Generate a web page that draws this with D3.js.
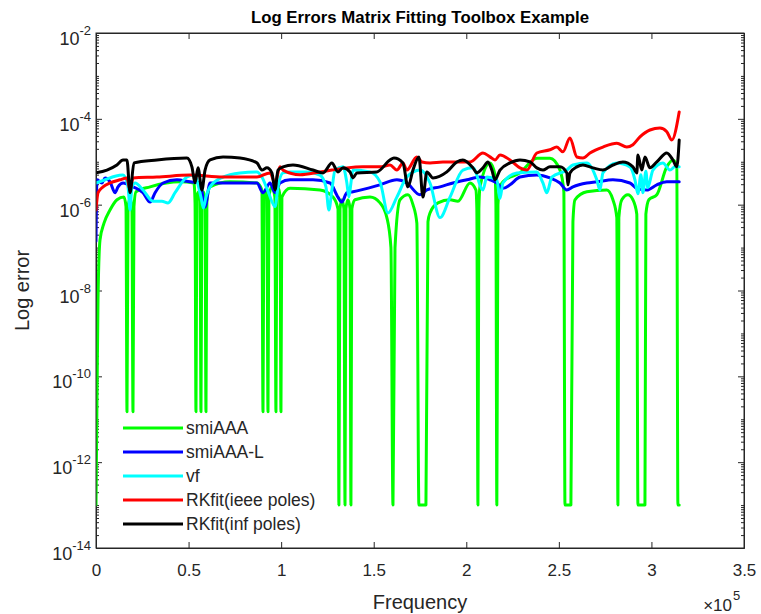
<!DOCTYPE html>
<html>
<head>
<meta charset="utf-8">
<script src="https://d3js.org/d3.v7.min.js"></script>
<style>
  body { margin: 0; background: #fff; }
  text { font-family: "Liberation Sans", Arial, Helvetica, sans-serif; fill: #262626; }
</style>
</head>
<body>
<div id="graph"></div>
<script>
let w = 761;
let h = 614;

// frequency in Hz, error as plain value
let xTickValues = [0, 50000, 100000, 150000, 200000, 250000, 300000, 350000];
let yTickExponents = [-14, -12, -10, -8, -6, -4, -2];
let seriesNames = ["smiAAA", "smiAAA-L", "vf", "RKfit(ieee poles)", "RKfit(inf poles)"];

let smiAAA = [
  [0, 1e-13], [540, 2.8e-11], [1080, 6e-9], [2160, 1.5e-7], [4320, 3.7e-7], [7560, 7.5e-7],
  [11340, 1.3e-6], [15100, 1.5e-6], [16200, 9e-7], [16740, 1.5e-11], [17300, 9e-7], [18400, 1.4e-6],
  [19400, 9e-7], [19980, 1.5e-11], [20500, 9e-7], [21600, 2e-6], [29200, 2.6e-6], [45400, 3.4e-6],
  [52900, 3.2e-6], [53500, 1.1e-6], [54000, 1.5e-11], [54500, 1.5e-6], [55400, 2e-6], [56200, 1.2e-6],
  [56700, 1.5e-11], [57200, 1.2e-6], [58100, 2e-6], [58900, 1.2e-6], [59400, 1.5e-11], [59900, 1.2e-6],
  [61600, 2.6e-6], [72400, 3.4e-6], [86900, 3.2e-6], [89600, 2.2e-6], [90200, 1.5e-11], [90700, 1.5e-6],
  [91500, 2.2e-6], [92300, 1.5e-6], [92900, 1.5e-11], [93400, 1.5e-6], [95000, 2.6e-6], [96600, 1.5e-6],
  [97200, 1.5e-11], [97700, 1.5e-6], [98600, 2.4e-6], [99400, 1.5e-6], [99900, 1.5e-11], [100400, 1.5e-6],
  [104800, 2.4e-6], [121000, 2.2e-6], [128000, 1.5e-6], [130700, 8e-7], [131200, 1e-13], [131800, 8e-7],
  [132800, 1.3e-6], [133900, 8e-7], [134500, 1e-13], [135000, 8e-7], [136100, 1.3e-6], [137200, 8e-7],
  [137700, 1e-13], [138200, 8e-7], [139900, 1.3e-6], [148000, 1.5e-6], [153400, 1.1e-6], [157100, 5e-7],
  [159300, 1e-7], [160400, 1e-13], [161500, 1e-7], [164200, 1.3e-6], [168500, 1.7e-6], [171200, 1e-6],
  [173300, 3.7e-7], [174400, 1e-13], [178200, 1e-13], [179300, 4e-7], [180400, 6.4e-7], [184700, 1.1e-6],
  [191200, 1.3e-6], [195500, 1.2e-6], [202000, 3.2e-6], [205200, 2.2e-6], [205700, 8e-7], [206300, 1e-13],
  [206800, 8e-7], [207400, 2.6e-6], [212800, 9.4e-6], [215500, 5e-6], [216000, 1e-6], [216500, 1e-13],
  [217100, 1e-6], [218200, 2.6e-6], [219800, 3.4e-6], [229000, 5.5e-6], [238100, 1.2e-5], [245200, 1.2e-5],
  [250600, 6.4e-6], [252700, 2e-6], [253300, 1e-13], [256500, 1e-13], [257600, 4e-7], [258700, 1.3e-6],
  [265100, 2e-6], [275900, 2.2e-6], [279200, 1.3e-6], [281300, 5e-7], [281900, 1e-13], [282400, 5e-7],
  [284000, 1.3e-6], [287300, 1.7e-6], [290000, 1.3e-6], [292100, 6e-7], [292700, 1e-13], [296500, 1e-13],
  [297000, 6e-7], [298600, 1.3e-6], [302900, 1.7e-6], [308300, 7.6e-6], [311600, 1.1e-5], [313700, 8e-6],
  [314300, 1e-13], [315000, 1e-13]
];

let smiAAAL = [
  [0, 1.4e-7], [500, 3.8e-6], [3200, 3.2e-6], [4900, 4.2e-6], [7600, 3.4e-6], [10300, 1.9e-6],
  [11900, 2.6e-6], [14600, 3.2e-6], [20000, 2.6e-6], [25400, 1.9e-6], [29200, 1.15e-6], [31900, 1.9e-6],
  [36200, 3.2e-6], [43700, 3.8e-6], [50800, 3.4e-6], [56200, 3.2e-6], [58900, 8.8e-7], [61600, 3.2e-6],
  [68600, 3.2e-6], [86900, 3.2e-6], [90200, 1.9e-6], [94000, 3.2e-6], [96700, 1.9e-6], [99400, 3.2e-6],
  [104800, 3.8e-6], [117200, 3.8e-6], [126400, 3.2e-6], [130700, 1.5e-6], [132800, 1.15e-6], [135500, 1.9e-6],
  [138800, 2e-6], [153400, 2.9e-6], [162500, 3.8e-6], [167900, 3.2e-6], [175000, 1.7e-6], [178700, 2.2e-6],
  [185800, 2.6e-6], [192800, 3.2e-6], [200300, 3.8e-6], [207400, 4.4e-6], [212800, 3.8e-6], [216500, 3.2e-6],
  [219800, 2.4e-6], [223600, 2.9e-6], [229000, 4.4e-6], [238100, 4.9e-6], [245200, 4.2e-6], [250600, 3.2e-6],
  [254300, 2.2e-6], [257600, 2.6e-6], [265100, 3.2e-6], [270500, 3.4e-6], [279200, 3.8e-6], [288400, 3.2e-6],
  [292100, 2.4e-6], [297500, 2.2e-6], [302900, 2.9e-6], [308300, 3.4e-6], [315000, 3.4e-6]
];

let vf = [
  [0, 3.2e-6], [5000, 3.8e-6], [10300, 4.6e-6], [14600, 4.9e-6], [17300, 2.6e-6], [18400, 7.5e-7],
  [19400, 2.6e-6], [21100, 3.2e-6], [25400, 2.2e-6], [30800, 1.2e-6], [35600, 1.2e-6], [38900, 1.1e-6],
  [42700, 1.9e-6], [49100, 4.4e-6], [52900, 4.9e-6], [56700, 1.5e-6], [58000, 8.4e-7], [59400, 1.5e-6],
  [61600, 2.6e-6], [68600, 4.4e-6], [77800, 5.5e-6], [86900, 5.8e-6], [89600, 4.4e-6], [93000, 2e-6],
  [96700, 9e-7], [98300, 2.6e-6], [101000, 5.5e-6], [104800, 5.8e-6], [113900, 5.8e-6], [121000, 4.9e-6],
  [124200, 2.6e-6], [125800, 7.5e-7], [127400, 2.2e-6], [129100, 6.4e-6], [133400, 7.6e-6], [135500, 3.2e-6],
  [136600, 1.5e-6], [137700, 3.2e-6], [138800, 6.4e-6], [147900, 5.8e-6], [153400, 3.4e-6], [157700, 6.4e-7],
  [162500, 1.5e-6], [167900, 4.4e-6], [175000, 6.4e-6], [180400, 3.2e-6], [185800, 5e-7], [191200, 1.5e-6],
  [198200, 6.4e-6], [203600, 7.2e-6], [209000, 2.2e-6], [211100, 4.4e-6], [216500, 3.8e-6], [218200, 1.4e-6],
  [219800, 3.2e-6], [227300, 5.5e-6], [238100, 5.8e-6], [241400, 3.2e-6], [243500, 1.9e-6], [246200, 4.4e-6],
  [254300, 6.4e-6], [257600, 8.4e-6], [265100, 9.4e-6], [270500, 3.8e-6], [272200, 2.2e-6], [273800, 5.5e-6],
  [281300, 9.4e-6], [288400, 7.6e-6], [291100, 3.8e-6], [292700, 1.8e-6], [294300, 5e-6], [295400, 1.9e-6],
  [297000, 6e-6], [298000, 2.5e-6], [300800, 6.4e-6], [306200, 9.4e-6], [310000, 6.4e-6], [312700, 7.6e-6],
  [315000, 7.6e-6]
];

let rkfitIeee = [
  [0, 7.5e-7], [1100, 1.9e-6], [3800, 2.6e-6], [7600, 3.2e-6], [13000, 3.8e-6], [16700, 4.2e-6],
  [18400, 2.2e-6], [20000, 4.2e-6], [32900, 4.4e-6], [50800, 4.9e-6], [68600, 4.4e-6], [86900, 4.4e-6],
  [94000, 5.5e-6], [96700, 3.2e-6], [99400, 7.6e-6], [101000, 6.4e-6], [110200, 5e-6], [121000, 5.8e-6],
  [127400, 6.4e-6], [135500, 7.2e-6], [144200, 7.6e-6], [153400, 7.6e-6], [158800, 8.4e-6], [162500, 6.4e-6],
  [165800, 9.4e-6], [167900, 6.4e-6], [173300, 1.29e-5], [176000, 9.9e-6], [180400, 9.4e-6], [187400, 9.9e-6],
  [194900, 9.9e-6], [202000, 9.9e-6], [209000, 1.6e-5], [212800, 1.3e-5], [215500, 1.1e-5], [218200, 1.44e-5],
  [223600, 1.1e-5], [229000, 7.2e-6], [232700, 6.4e-6], [238100, 1.6e-5], [245200, 1.9e-5], [248900, 2.2e-5],
  [252200, 1.7e-5], [256000, 3.6e-5], [259700, 1.29e-5], [263000, 1.22e-5], [266800, 1.6e-5], [273800, 2.2e-5],
  [281300, 2.7e-5], [286700, 2.2e-5], [290000, 2.5e-5], [293800, 3.8e-5], [299200, 5.5e-5], [304600, 6.1e-5],
  [308300, 5e-5], [311000, 3.2e-5], [315000, 1.45e-4]
];

let rkfitInf = [
  [0, 5.5e-6], [5900, 6.4e-6], [11300, 8.4e-6], [14600, 1.1e-5], [16700, 1.1e-5], [18400, 1.9e-6],
  [20500, 9.4e-6], [32900, 1.1e-5], [49100, 1.22e-5], [51800, 7.6e-6], [53500, 3.2e-6], [55100, 7.2e-6],
  [57200, 2.2e-6], [58900, 6.4e-6], [61600, 1.1e-5], [68600, 1.29e-5], [77800, 1.22e-5], [86900, 9.4e-6],
  [89600, 6.4e-6], [92300, 7.2e-6], [95000, 5.5e-6], [96700, 2.2e-6], [98300, 6.4e-6], [101000, 7.6e-6],
  [106400, 8.4e-6], [117200, 6.4e-6], [122600, 5.5e-6], [127400, 9.4e-6], [130700, 5.8e-6], [133400, 7.2e-6],
  [137200, 5.8e-6], [138800, 4.2e-6], [140900, 5.5e-6], [151700, 5.8e-6], [158800, 1.1e-5], [160900, 1.22e-5],
  [165800, 9.4e-6], [168500, 2.6e-6], [171200, 6.4e-6], [174400, 1.29e-5], [176600, 1.5e-6], [178700, 5.8e-6],
  [182000, 4.2e-6], [189500, 5.8e-6], [194900, 9.9e-6], [198200, 1.1e-5], [203600, 7.2e-6], [205700, 5.5e-6],
  [209000, 7.2e-6], [211700, 9.9e-6], [213800, 6.4e-6], [215500, 3.8e-6], [218200, 6.4e-6], [223600, 9.4e-6],
  [229000, 1.1e-5], [234400, 9.9e-6], [238100, 7.2e-6], [241400, 6.4e-6], [245200, 7.6e-6], [250600, 7.6e-6],
  [254300, 5.5e-6], [254900, 2.9e-6], [256000, 5.5e-6], [259700, 7.6e-6], [263000, 8.4e-6], [268400, 7.2e-6],
  [273800, 6.4e-6], [279200, 8.4e-6], [284600, 9.9e-6], [290000, 7.6e-6], [292100, 5.5e-6], [292700, 1.44e-5],
  [294800, 6.4e-6], [296500, 1.29e-5], [299200, 7.2e-6], [302900, 9.9e-6], [308300, 1.6e-5], [311600, 1.1e-5],
  [313700, 7.6e-6], [315000, 3.2e-5]
];

let allSeries = [smiAAA, smiAAAL, vf, rkfitIeee, rkfitInf];

function getColor(i){
  if(i == 0){ return "#00ff00"; }
  if(i == 1){ return "#0000ff"; }
  if(i == 2){ return "#00ffff"; }
  if(i == 3){ return "#ff0000"; }
  return "#000000";
}

let plotLeft = 96, plotRight = 744, plotTop = 33, plotBottom = 548;

let xScale = d3.scaleLinear().domain([0, 350000]).range([plotLeft, plotRight]);
let yScale = d3.scaleLog().domain([1e-14, 1e-2]).range([plotBottom, plotTop]);

let viz = d3.select("#graph")
  .append("svg")
    .attr("width", w)
    .attr("height", h);

viz.append("clipPath").attr("id", "plotclip")
  .append("rect")
    .attr("x", plotLeft).attr("y", plotTop)
    .attr("width", plotRight - plotLeft).attr("height", plotBottom - plotTop);

// minor ticks for log axis
let minorTicks = [];
for(let e = -14; e < -2; e++){
  for(let m = 1; m <= 9; m++){
    if(m == 1 && e % 2 == 0) continue;
    minorTicks.push(m * Math.pow(10, e));
  }
}
let majorTicks = yTickExponents.map(e => Math.pow(10, e));

let axisColor = "#262626";

function styleAxis(g){
  g.selectAll("path, line").attr("stroke", axisColor);
}

let xAxisGroup = viz.append("g").attr("class", "xaxis")
  .attr("transform", "translate(0," + plotBottom + ")")
  .call(d3.axisBottom(xScale).tickValues(xTickValues).tickSizeInner(-6).tickSizeOuter(0)
        .tickPadding(16).tickFormat(d => d / 1e5));
xAxisGroup.call(styleAxis);
xAxisGroup.selectAll("text").attr("font-size", 17).attr("fill", axisColor)
  .attr("font-family", "Liberation Sans, Arial, sans-serif");

viz.append("g").attr("class", "xtop")
  .attr("transform", "translate(0," + plotTop + ")")
  .call(d3.axisTop(xScale).tickValues(xTickValues).tickSizeInner(-6).tickSizeOuter(0).tickFormat(""))
  .call(styleAxis);

viz.append("g").attr("class", "yaxis")
  .attr("transform", "translate(" + plotLeft + ",0)")
  .call(d3.axisLeft(yScale).tickValues(majorTicks).tickSizeInner(-6).tickSizeOuter(0).tickFormat(""))
  .call(styleAxis);
viz.append("g").attr("transform", "translate(" + plotLeft + ",0)")
  .call(d3.axisLeft(yScale).tickValues(minorTicks).tickSizeInner(-3).tickSizeOuter(0).tickFormat(""))
  .call(styleAxis);

viz.append("g").attr("class", "yright")
  .attr("transform", "translate(" + plotRight + ",0)")
  .call(d3.axisRight(yScale).tickValues(majorTicks).tickSizeInner(-6).tickSizeOuter(0).tickFormat(""))
  .call(styleAxis);
viz.append("g").attr("transform", "translate(" + plotRight + ",0)")
  .call(d3.axisRight(yScale).tickValues(minorTicks).tickSizeInner(-3).tickSizeOuter(0).tickFormat(""))
  .call(styleAxis);

// y tick labels 10^e
let yLabels = viz.append("g").attr("class", "ylabels");
yTickExponents.forEach(function(e){
  let t = yLabels.append("text")
    .attr("x", 91)
    .attr("y", yScale(Math.pow(10, e)) + 12)
    .attr("text-anchor", "end")
    .attr("font-size", 18);
  t.append("tspan").text("10");
  t.append("tspan").attr("dy", -10).attr("font-size", 13).text(e);
});

// lines
let line = d3.line()
  .x(d => xScale(d[0]))
  .y(d => yScale(d[1]))
  .curve(d3.curveMonotoneX);

let vizGroup = viz.append("g").attr("class", "vizgroup").attr("clip-path", "url(#plotclip)");
vizGroup.selectAll(".series").data(allSeries).enter()
  .append("path")
    .attr("class", "series")
    .attr("d", line)
    .attr("fill", "none")
    .attr("stroke", (d, i) => getColor(i))
    .attr("stroke-width", 3)
    .attr("stroke-linejoin", "round")
    .attr("stroke-linecap", "round");

// box outline on top
viz.append("rect")
  .attr("x", plotLeft).attr("y", plotTop)
  .attr("width", plotRight - plotLeft).attr("height", plotBottom - plotTop)
  .attr("fill", "none").attr("stroke", axisColor).attr("stroke-width", 1);

// legend
let legend = viz.append("g").attr("class", "legend");
let legendRows = legend.selectAll(".row").data(seriesNames).enter()
  .append("g")
    .attr("class", "row")
    .attr("transform", (d, i) => "translate(0," + (428 + i * 24) + ")");
legendRows.append("line")
  .attr("x1", 123).attr("x2", 183)
  .attr("y1", 0).attr("y2", 0)
  .attr("stroke", (d, i) => getColor(i))
  .attr("stroke-width", 3);
legendRows.append("text")
  .attr("x", 186).attr("y", 6)
  .attr("font-size", 17.5)
  .text(d => d);

// titles
viz.append("text")
  .attr("x", (plotLeft + plotRight) / 2).attr("y", 23)
  .attr("text-anchor", "middle")
  .attr("font-size", 16.8)
  .attr("font-weight", "bold")
  .style("fill", "#000")
  .text("Log Errors Matrix Fitting Toolbox Example");

viz.append("text")
  .attr("x", (plotLeft + plotRight) / 2).attr("y", 609)
  .attr("text-anchor", "middle")
  .attr("font-size", 20)
  .text("Frequency");

viz.append("text")
  .attr("transform", "translate(29," + ((plotTop + plotBottom) / 2) + ") rotate(-90)")
  .attr("text-anchor", "middle")
  .attr("font-size", 20)
  .text("Log error");

viz.append("text")
  .attr("x", 732).attr("y", 611)
  .attr("text-anchor", "end")
  .attr("font-size", 17)
  .text("\u00d710");
viz.append("text")
  .attr("x", 733).attr("y", 600)
  .attr("font-size", 13)
  .text("5");
</script>
</body>
</html>
